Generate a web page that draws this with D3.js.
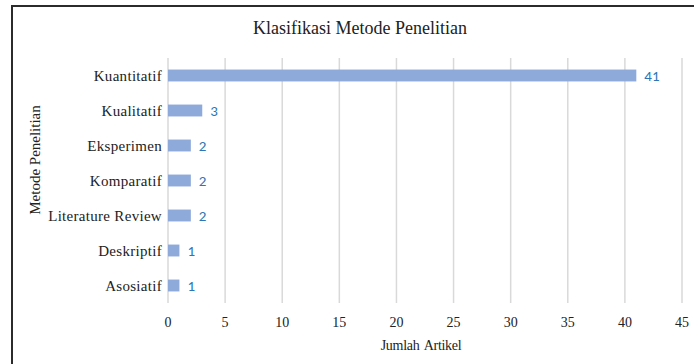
<!DOCTYPE html>
<html>
<head>
<meta charset="utf-8">
<script src="https://cdn.jsdelivr.net/npm/d3@7"></script>
<style>
  body { margin: 0; background: #fff; }
  svg { display: block; }
</style>
</head>
<body>
<div id="chart"></div>
<script>
var categories = ['Kuantitatif', 'Kualitatif', 'Eksperimen', 'Komparatif', 'Literature Review', 'Deskriptif', 'Asosiatif'];
var values = [41, 3, 2, 2, 2, 1, 1];
var xTicks = [0, 5, 10, 15, 20, 25, 30, 35, 40, 45];

var width = 694, height = 364;
var margin = {top: 58, left: 168, right: 12, bottom: 61};
var serif = '"Liberation Serif", "Times New Roman", serif';

var svg = d3.select('#chart').append('svg')
    .attr('width', width)
    .attr('height', height);

// frame, cut off at right and bottom like the screenshot
svg.append('rect')
    .attr('x', 12).attr('y', 6)
    .attr('width', 720).attr('height', 400)
    .style('fill', 'none')
    .style('stroke', '#2b2b2b')
    .style('stroke-width', 2);

var x = d3.scaleLinear().domain([0, 45]).range([margin.left, 682]);
var y = d3.scaleBand().domain(categories).range([margin.top, 303]).paddingInner(0.66).paddingOuter(0.33);

svg.selectAll('.grid')
    .data(xTicks)
    .enter().append('line')
    .attr('class', 'grid')
    .attr('x1', function(d) { return x(d); })
    .attr('x2', function(d) { return x(d); })
    .attr('y1', margin.top)
    .attr('y2', 303)
    .style('stroke', '#d9d9d9')
    .style('stroke-width', 1.5);

svg.selectAll('.bar')
    .data(values)
    .enter().append('rect')
    .attr('class', 'bar')
    .attr('x', x(0))
    .attr('y', function(d, i) { return y(categories[i]); })
    .attr('width', function(d) { return x(d) - x(0); })
    .attr('height', y.bandwidth())
    .style('fill', '#8eaadb');

svg.selectAll('.val')
    .data(values)
    .enter().append('text')
    .attr('class', 'val')
    .attr('x', function(d) { return x(d) + 8; })
    .attr('y', function(d, i) { return y(categories[i]) + y.bandwidth() / 2; })
    .attr('dy', '0.36em')
    .style('font-family', 'Carlito, "Open Sans", sans-serif')
    .style('font-size', '15px')
    .style('fill', '#2e75b6')
    .text(function(d) { return d; });

svg.selectAll('.cat')
    .data(categories)
    .enter().append('text')
    .attr('class', 'cat')
    .attr('x', 162)
    .attr('y', function(d) { return y(d) + y.bandwidth() / 2; })
    .attr('dy', '0.36em')
    .attr('text-anchor', 'end')
    .style('font-family', serif)
    .style('font-size', '15px')
    .style('letter-spacing', '0.3px')
    .style('fill', '#222')
    .text(function(d) { return d; });

svg.selectAll('.tick-label')
    .data(xTicks)
    .enter().append('text')
    .attr('class', 'tick-label')
    .attr('x', function(d) { return x(d); })
    .attr('y', 327)
    .attr('text-anchor', 'middle')
    .style('font-family', serif)
    .style('font-size', '14px')
    .style('fill', '#222')
    .text(function(d) { return d; });

svg.append('text')
    .attr('x', 421).attr('y', 350)
    .attr('text-anchor', 'middle')
    .style('font-family', serif)
    .style('font-size', '14px')
    .style('letter-spacing', '-0.3px')
    .style('word-spacing', '2px')
    .style('fill', '#222')
    .text('Jumlah Artikel');

svg.append('text')
    .attr('transform', 'translate(40,160) rotate(-90)')
    .attr('text-anchor', 'middle')
    .style('font-family', serif)
    .style('font-size', '15px')
    .style('fill', '#222')
    .text('Metode Penelitian');

svg.append('text')
    .attr('x', 360).attr('y', 34)
    .attr('text-anchor', 'middle')
    .style('font-family', serif)
    .style('font-size', '18px')
    .style('fill', '#222')
    .text('Klasifikasi Metode Penelitian');
</script>
</body>
</html>
